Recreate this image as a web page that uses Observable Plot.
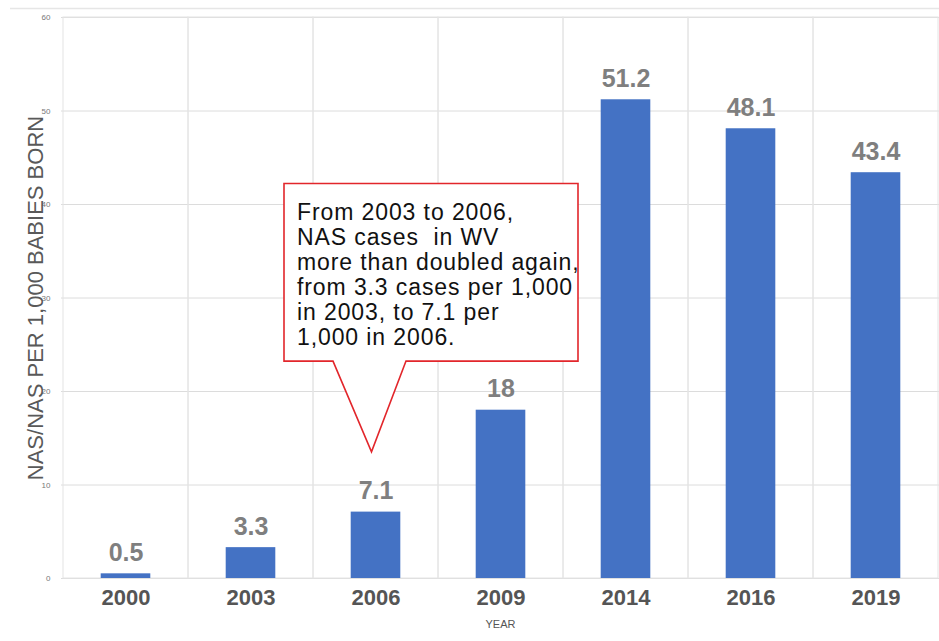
<!DOCTYPE html>
<html>
<head>
<meta charset="utf-8">
<script src="https://cdn.jsdelivr.net/npm/d3@7"></script>
<script src="https://cdn.jsdelivr.net/npm/@observablehq/plot@0.6"></script>
<style>
  html, body { margin: 0; padding: 0; background: #fff; }
  svg { display: block; }
</style>
</head>
<body>
<div id="chart"></div>
<script>
// ---- data ----
const years = ["2000", "2003", "2006", "2009", "2014", "2016", "2019"];
const rates = [0.5, 3.3, 7.1, 18, 51.2, 48.1, 43.4];
const rateLabels = ["0.5", "3.3", "7.1", "18", "51.2", "48.1", "43.4"];
const yTicks = [0, 10, 20, 30, 40, 50, 60];
const yLabel = "NAS/NAS PER 1,000 BABIES BORN";
const xLabel = "YEAR";
const calloutLines = [
  "From 2003 to 2006,",
  "NAS cases  in WV",
  "more than doubled again,",
  "from 3.3 cases per 1,000",
  "in 2003, to 7.1 per",
  "1,000 in 2006."
];
const calloutYear = "2006";
const calloutTipValue = 13.5;
const calloutTopValue = 42.2;
const calloutBottomValue = 23.2;

const rows = years.map((y, i) => ({year: y, value: rates[i], label: rateLabels[i]}));

function callout(index, scales, values, dimensions) {
  const x = scales.x, y = scales.y;
  const bw = x.bandwidth ? x.bandwidth() : 0;
  const cx = x(calloutYear) + bw / 2;
  const g = d3.create("svg:g");
  // faint top border line
  g.append("line")
    .attr("x1", 10).attr("x2", dimensions.width)
    .attr("y1", 8.5).attr("y2", 8.5)
    .attr("stroke", "#e6e6e6").attr("stroke-width", 1.5);
  const left = cx - 91.5, right = cx + 202.5;
  const top = y(calloutTopValue), bottom = y(calloutBottomValue);
  const tipX = cx - 4, tipY = y(calloutTipValue);
  const bl = cx - 42.5, br = cx + 30.5;
  const path = `M${left},${top}H${right}V${bottom}H${br}L${tipX},${tipY}L${bl},${bottom}H${left}Z`;
  g.append("path").attr("d", path)
    .attr("fill", "#fff").attr("stroke", "#e2262b").attr("stroke-width", 1.6)
    .attr("stroke-linejoin", "miter");
  const t = g.append("text")
    .attr("font-family", "'Liberation Sans', Arial, Helvetica, sans-serif")
    .attr("font-size", 23).attr("fill", "#111")
    .attr("text-anchor", "start")
    .attr("letter-spacing", 0.9)
    .style("white-space", "pre");
  calloutLines.forEach((line, i) => {
    t.append("tspan").attr("x", left + 13).attr("y", top + 37 + i * 25).text(line);
  });
  return g.node();
}

const chart = Plot.plot({
  width: 939,
  height: 641,
  marginLeft: 61,
  marginRight: 0,
  marginTop: 17,
  marginBottom: 63,
  style: {background: "#fff", fontFamily: "'Liberation Sans', Arial, Helvetica, sans-serif"},
  x: {domain: years, padding: 0, label: null},
  y: {domain: [0, 60], label: null},
  marks: [
    Plot.gridY(yTicks, {stroke: "#dcdcdc", strokeOpacity: 1, strokeWidth: 1}),
    Plot.barY(years, {x: d => d, y1: 0, y2: 60, fill: "none", stroke: "#e4e4e4", strokeWidth: 1}),
    Plot.axisY({ticks: yTicks, tickSize: 0, tickPadding: 11, fontSize: 8, color: "#777", label: null}),
    Plot.axisX({tickSize: 0, tickPadding: 11, fontSize: 22, fontWeight: "bold", color: "#555", label: null}),
    Plot.barY(rows, {x: "year", y: "value", fill: "#4472c4", insetLeft: 37.7, insetRight: 37.7}),
    Plot.text(rows, {x: "year", y: "value", text: "label", dy: -21, fontSize: 25, fontWeight: "bold", fill: "#7f7f7f"}),
    Plot.text([yLabel], {frameAnchor: "left", textAnchor: "middle", rotate: -90, dx: -26, fontSize: 22, fill: "#595959", letterSpacing: 0.6}),
    Plot.text([xLabel], {frameAnchor: "bottom", dy: 49, fontSize: 11, fill: "#555"}),
    callout
  ]
});
document.getElementById("chart").appendChild(chart);
</script>
</body>
</html>
